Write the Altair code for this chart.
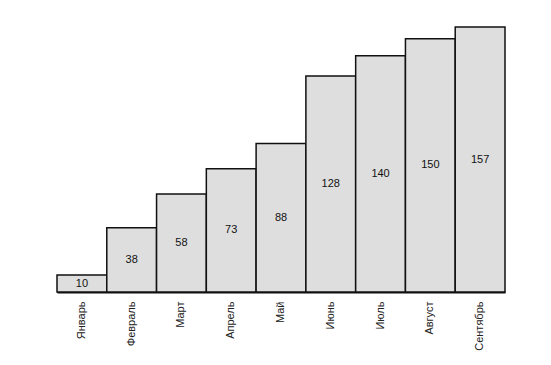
import altair as alt
import pandas as pd

months = ["Январь", "Февраль", "Март", "Апрель", "Май", "Июнь", "Июль", "Август", "Сентябрь"]
values = [10, 38, 58, 73, 88, 128, 140, 150, 157]

df = pd.DataFrame({"month": months, "value": values})
df["mid"] = df["value"] / 2

x = alt.X("month:N", sort=months,
          scale=alt.Scale(paddingInner=0, paddingOuter=0),
          axis=alt.Axis(title=None, labelAngle=-90, ticks=False, domain=True,
                        domainColor="#111", domainWidth=2, labelPadding=9,
                        labelFont="Liberation Sans", labelFontSize=11,
                        labelColor="#222"))
y = alt.Y("value:Q", scale=alt.Scale(domain=[0, 157], nice=False),
          axis=None)

bars = alt.Chart(df).mark_bar(fill="#dedede", stroke="#111", strokeWidth=1.5).encode(x=x, y=y)
labels = alt.Chart(df).mark_text(font="Liberation Sans", fontSize=11, color="#111").encode(
    x=alt.X("month:N", sort=months), y=alt.Y("mid:Q"), text=alt.Text("value:Q"))

chart = alt.layer(bars, labels).properties(
    width=448, height=265,
    background="white",
    autosize=alt.AutoSizeParams(type="none"),
    padding={"left": 49, "top": 19, "right": 30, "bottom": 65},
).configure_view(stroke=None, strokeWidth=0)

chart.save("out.html", embed_options={"renderer": "svg", "actions": False})
